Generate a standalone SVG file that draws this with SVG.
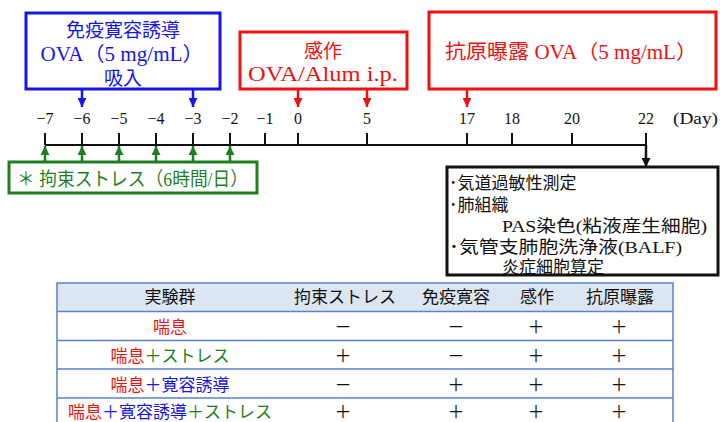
<svg xmlns="http://www.w3.org/2000/svg" width="720" height="422" viewBox="0 0 720 422">
<style>
.box{fill:#fff;stroke-width:3}
.mix{font-family:"Liberation Serif","Noto Sans CJK JP",serif}
.jp{font-family:"Noto Sans CJK JP",sans-serif}
.blue{fill:#1515e8}
.red{fill:#f01010}
.green{fill:#1e7f1e}
.day{font-family:"Liberation Serif",serif;font-size:16px;fill:#111;text-anchor:middle}
.tick{stroke:#111;stroke-width:2}
.tl{font-family:"Noto Sans CJK JP",sans-serif;font-size:17px;fill:#111;text-anchor:middle}
.hl{stroke:#5b83c8;stroke-width:1.5}
</style>
<defs>
<marker id="ab" viewBox="0 0 10 10" refX="10" refY="5" markerUnits="userSpaceOnUse" markerWidth="9" markerHeight="9" orient="auto"><path d="M0,0L10,5L0,10z" fill="#1515e8"/></marker>
<marker id="ar" viewBox="0 0 10 10" refX="10" refY="5" markerUnits="userSpaceOnUse" markerWidth="9" markerHeight="9" orient="auto"><path d="M0,0L10,5L0,10z" fill="#f01010"/></marker>
<marker id="ag" viewBox="0 0 10 10" refX="10" refY="5" markerUnits="userSpaceOnUse" markerWidth="9" markerHeight="9" orient="auto"><path d="M0,0L10,5L0,10z" fill="#1e7f1e"/></marker>
<marker id="ak" viewBox="0 0 10 10" refX="10" refY="5" markerUnits="userSpaceOnUse" markerWidth="9" markerHeight="9" orient="auto"><path d="M0,0L10,5L0,10z" fill="#111"/></marker>
</defs>
<rect width="720" height="422" fill="#fff"/>

<g id="timeline">
<line x1="45" y1="145" x2="646" y2="145" class="tick"/>
<path class="tick" d="M45,133V145M82,133V145M119,133V145M156,133V145M193,133V145M230,133V145M265,133V145M298,133V145M367,133V145M467,133V145M512,133V145M572,133V145M646,133V145"/>
<text class="day" x="45" y="124">−7</text>
<text class="day" x="82" y="124">−6</text>
<text class="day" x="119" y="124">−5</text>
<text class="day" x="156" y="124">−4</text>
<text class="day" x="193" y="124">−3</text>
<text class="day" x="230" y="124">−2</text>
<text class="day" x="265" y="124">−1</text>
<text class="day" x="298" y="124">0</text>
<text class="day" x="367" y="124">5</text>
<text class="day" x="467" y="124">17</text>
<text class="day" x="512" y="124">18</text>
<text class="day" x="572" y="124">20</text>
<text class="day" x="646" y="124">22</text>
<text class="day" x="673" y="124" style="text-anchor:start" textLength="45" lengthAdjust="spacingAndGlyphs">(Day)</text>
</g>

<g id="tolerance">
<rect class="box" x="26" y="13" width="194" height="76" stroke="#1515e8"/>
<text class="mix blue" x="123" y="37" font-size="19" text-anchor="middle">免疫寛容誘導</text>
<text class="mix blue" x="122" y="61" font-size="20" text-anchor="middle" textLength="163" lengthAdjust="spacingAndGlyphs">OVA（5 mg/mL）</text>
<text class="mix blue" x="123" y="85" font-size="19" text-anchor="middle">吸入</text>
</g>

<g id="sensitize">
<rect class="box" x="240" y="32" width="167" height="57" stroke="#f01010"/>
<text class="mix red" x="323" y="58" font-size="19" text-anchor="middle">感作</text>
<text class="mix red" x="323" y="81" font-size="21" text-anchor="middle" textLength="150" lengthAdjust="spacingAndGlyphs">OVA/Alum i.p.</text>
</g>

<g id="challenge">
<rect class="box" x="429" y="12" width="287" height="77" stroke="#f01010"/>
<text class="mix red" x="445" y="59" font-size="20" textLength="252" lengthAdjust="spacingAndGlyphs">抗原曝露 OVA（5 mg/mL）</text>
</g>

<g id="stress">
<rect class="box" x="9" y="162" width="248" height="31" stroke="#1e7f1e"/>
<text class="mix green" x="17" y="186" font-size="19" textLength="231" lengthAdjust="spacingAndGlyphs">＊ 拘束ストレス（6時間/日）</text>
</g>

<g id="analysis">
<rect class="box" x="447" y="167" width="271" height="108" stroke="#111"/>
<g class="mix" font-size="17" fill="#111">
<text x="449" y="189">･気道過敏性測定</text>
<text x="449" y="211">･肺組織</text>
<text x="502" y="232" textLength="205" lengthAdjust="spacingAndGlyphs">PAS染色(粘液産生細胞)</text>
<text x="449" y="253" textLength="233" lengthAdjust="spacingAndGlyphs">･気管支肺胞洗浄液(BALF)</text>
<text x="502" y="273">炎症細胞算定</text>
</g>
</g>

<g id="connectors" stroke-width="2.5" fill="none">
<line x1="82" y1="89" x2="82" y2="107" stroke="#1515e8" marker-end="url(#ab)"/>
<line x1="193" y1="89" x2="193" y2="107" stroke="#1515e8" marker-end="url(#ab)"/>
<line x1="298" y1="89" x2="298" y2="107" stroke="#f01010" marker-end="url(#ar)"/>
<line x1="367" y1="89" x2="367" y2="107" stroke="#f01010" marker-end="url(#ar)"/>
<line x1="467" y1="89" x2="467" y2="107" stroke="#f01010" marker-end="url(#ar)"/>
<line x1="45" y1="162" x2="45" y2="146" stroke="#1e7f1e" marker-end="url(#ag)"/>
<line x1="82" y1="162" x2="82" y2="146" stroke="#1e7f1e" marker-end="url(#ag)"/>
<line x1="119" y1="162" x2="119" y2="146" stroke="#1e7f1e" marker-end="url(#ag)"/>
<line x1="156" y1="162" x2="156" y2="146" stroke="#1e7f1e" marker-end="url(#ag)"/>
<line x1="193" y1="162" x2="193" y2="146" stroke="#1e7f1e" marker-end="url(#ag)"/>
<line x1="230" y1="162" x2="230" y2="146" stroke="#1e7f1e" marker-end="url(#ag)"/>
<line x1="646" y1="145" x2="646" y2="167" stroke="#111" marker-end="url(#ak)"/>
</g>

<g id="table">
<rect x="57" y="283" width="616" height="28" fill="#dce6f2"/>
<rect x="57" y="283" width="616" height="145" fill="none" class="hl"/>
<path class="hl" d="M57,311.5H673M57,340.5H673M57,369H673M57,398H673"/>
<text class="tl" x="170" y="303">実験群</text>
<text class="tl" x="345" y="303">拘束ストレス</text>
<text class="tl" x="456" y="303">免疫寛容</text>
<text class="tl" x="537" y="303">感作</text>
<text class="tl" x="620" y="303">抗原曝露</text>

<text class="tl" x="170" y="333"><tspan class="red">喘息</tspan></text>
<text class="tl" x="170" y="362"><tspan class="red">喘息</tspan><tspan class="green">＋ストレス</tspan></text>
<text class="tl" x="170" y="391"><tspan class="red">喘息</tspan><tspan class="blue">＋寛容誘導</tspan></text>
<text class="tl" x="170" y="418"><tspan class="red">喘息</tspan><tspan class="blue">＋寛容誘導</tspan><tspan class="green">＋ストレス</tspan></text>

<text class="tl" x="343" y="333">－</text><text class="tl" x="456" y="333">－</text><text class="tl" x="536" y="333">＋</text><text class="tl" x="619" y="333">＋</text>
<text class="tl" x="343" y="362">＋</text><text class="tl" x="456" y="362">－</text><text class="tl" x="536" y="362">＋</text><text class="tl" x="619" y="362">＋</text>
<text class="tl" x="343" y="391">－</text><text class="tl" x="456" y="391">＋</text><text class="tl" x="536" y="391">＋</text><text class="tl" x="619" y="391">＋</text>
<text class="tl" x="343" y="418">＋</text><text class="tl" x="456" y="418">＋</text><text class="tl" x="536" y="418">＋</text><text class="tl" x="619" y="418">＋</text>
</g>
</svg>
